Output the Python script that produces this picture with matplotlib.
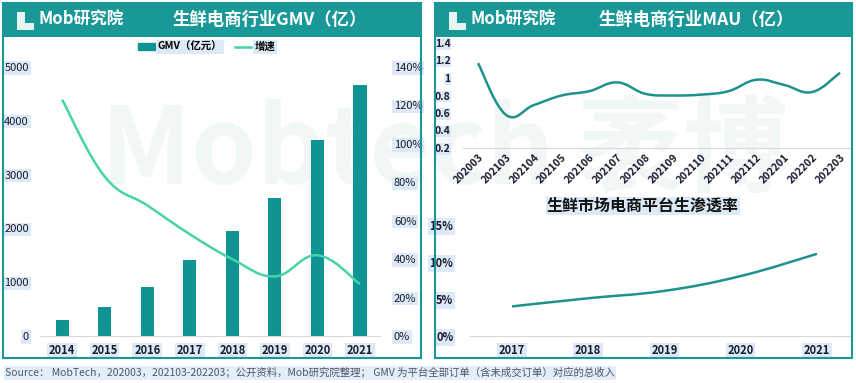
import matplotlib
matplotlib.use('Agg')
from matplotlib import pyplot as plt
from matplotlib.patches import Rectangle, PathPatch
from matplotlib.path import Path
from matplotlib.lines import Line2D
import numpy as np

plt.rcParams['font.family'] = ['Noto Sans CJK SC', 'DejaVu Sans']

# GMV chart data
years_gmv = ['2014', '2015', '2016', '2017', '2018', '2019', '2020', '2021']
gmv = [300, 540, 910, 1410, 1950, 2560, 3640, 4670]
growth = [123, 83, 68, 53, 40, 31, 42, 27]

# MAU chart data
months_mau = ['202003', '202103', '202104', '202105', '202106', '202107', '202108',
              '202109', '202110', '202111', '202112', '202201', '202202', '202203']
mau = [1.17, 0.58, 0.69, 0.80, 0.85, 0.95, 0.82, 0.80, 0.81, 0.85, 0.98, 0.92, 0.84, 1.06]

# penetration data
years_pen = ['2017', '2018', '2019', '2020', '2021']
penetration = [4.0, 5.1, 6.1, 8.1, 11.1]

W, H = 856, 383
TEAL = '#1a9898'
BAR = '#0f9393'
MINT = '#45d4a6'
LINE = '#1e918c'
LABEL_BOX = dict(facecolor='#dce9f6', edgecolor='none', pad=1.2)


def box(x0, y0, x1, y1):
    # pixel box (top-left origin) -> figure fraction [l, b, w, h]
    return [x0 / W, 1 - y1 / H, (x1 - x0) / W, (y1 - y0) / H]


def smooth_path(x, y, k=0.2):
    # cubic bezier through the data points (drawing style only)
    x = np.asarray(x, float)
    y = np.asarray(y, float)
    verts = [(x[0], y[0])]
    codes = [Path.MOVETO]
    n = len(x)
    for i in range(n - 1):
        x0, y0 = (x[i - 1], y[i - 1]) if i > 0 else (x[i], y[i])
        x3, y3 = (x[i + 2], y[i + 2]) if i + 2 < n else (x[i + 1], y[i + 1])
        c1 = (x[i] + (x[i + 1] - x0) * k, y[i] + (y[i + 1] - y0) * k)
        c2 = (x[i + 1] - (x3 - x[i]) * k, y[i + 1] - (y3 - y[i]) * k)
        verts += [c1, c2, (x[i + 1], y[i + 1])]
        codes += [Path.CURVE4] * 3
    return Path(verts, codes)


def style_ax(ax, size=8):
    ax.set_facecolor('none')
    for s in ['top', 'right', 'left']:
        ax.spines[s].set_visible(False)
    ax.spines['bottom'].set_color('#d9d9d9')
    ax.tick_params(length=0, labelsize=size, colors='#1a1a2e')
    for lbl in ax.get_xticklabels():
        lbl.set_fontweight('bold')


fig = plt.figure(figsize=(W / 100, H / 100), dpi=100)

# faint watermark, behind everything
fig.text(0.52, 0.60, 'Mobtech 袤博', fontsize=76, fontweight='bold', style='italic',
         color='#f0f7f6', ha='center', va='center', zorder=-5)

# panel frames and headers
for x0, x1, title, tx in [(3, 421, '生鲜电商行业GMV（亿）', 270), (435, 852, '生鲜电商行业MAU（亿）', 696)]:
    fig.add_artist(Rectangle((x0 / W, 1 - 358 / H), (x1 - x0) / W, 355 / H,
                             transform=fig.transFigure, fill=False, edgecolor=TEAL, lw=1.5))
    fig.add_artist(Rectangle((x0 / W, 1 - 37 / H), (x1 - x0) / W, 34 / H,
                             transform=fig.transFigure, facecolor=TEAL, edgecolor='none'))
    fig.text(tx / W, 1 - 20 / H, title, color='white', fontsize=12.5, fontweight='bold',
             ha='center', va='center')
    fig.text((x0 + 36) / W, 1 - 20 / H, 'Mob研究院', color='white', fontsize=12,
             fontweight='bold', style='italic', ha='left', va='center')
    fig.add_artist(Rectangle(((x0 + 14) / W, 1 - 30 / H), 8 / W, 18 / H,
                             transform=fig.transFigure, facecolor='#e6f4f4', edgecolor='none'))
    fig.add_artist(Rectangle(((x0 + 22) / W, 1 - 30 / H), 9 / W, 7 / H,
                             transform=fig.transFigure, facecolor='#e6f4f4', edgecolor='none'))

# GMV bars + growth line
ax1 = fig.add_axes(box(40, 67, 380, 336))
x = np.arange(len(years_gmv))
ax1.bar(x, gmv, width=0.31, color=BAR, zorder=2)
ax1.set_ylim(0, 5000)
ax1.set_xlim(-0.52, 7.47)
ax1.set_yticks([0, 1000, 2000, 3000, 4000, 5000])
ax1.set_xticks(x)
ax1.set_xticklabels(years_gmv)
style_ax(ax1)
ax1.tick_params(axis='y', pad=8)
ax1.tick_params(axis='x', pad=6)

ax2 = ax1.twinx()
ax2.set_facecolor('none')
ax2.add_patch(PathPatch(smooth_path(x, growth), fill=False, edgecolor=MINT, lw=1.8, zorder=3))
ax2.set_ylim(0, 140)
ax2.set_yticks(range(0, 141, 20))
ax2.set_yticklabels([f'{v}%' for v in range(0, 141, 20)])
for s in ['top', 'right', 'left', 'bottom']:
    ax2.spines[s].set_visible(False)
ax2.tick_params(length=0, labelsize=8, colors='#1a1a2e', pad=10)

for lbl in ax1.get_xticklabels() + ax1.get_yticklabels() + ax2.get_yticklabels():
    lbl.set_bbox(LABEL_BOX)

handles = [Rectangle((0, 0), 1, 1, color=BAR), Line2D([], [], color=MINT, lw=1.8)]
leg = ax1.legend(handles, ['GMV（亿元）', '增速'], loc='center', bbox_to_anchor=(0.49, 1.075),
                 ncol=2, frameon=False, fontsize=7.5, handlelength=1.6, handleheight=0.6,
                 columnspacing=1.2, handletextpad=0.3)
for t in leg.get_texts():
    t.set_bbox(LABEL_BOX)
    t.set_fontweight('bold')

# MAU line
ax3 = fig.add_axes(box(463, 43, 852, 148))
xm = np.arange(len(months_mau))
ax3.add_patch(PathPatch(smooth_path(xm, mau), fill=False, edgecolor=LINE, lw=1.8))
ax3.set_xlim(-0.54, 13.43)
ax3.set_ylim(0.2, 1.4)
ax3.set_yticks([0.2, 0.4, 0.6, 0.8, 1.0, 1.2, 1.4])
ax3.set_yticklabels(['0.2', '0.4', '0.6', '0.8', '1', '1.2', '1.4'])
ax3.set_xticks(xm)
ax3.set_xticklabels(months_mau, rotation=45, ha='right', rotation_mode='anchor')
style_ax(ax3, size=7.5)
ax3.tick_params(axis='y', pad=9)
ax3.tick_params(axis='x', pad=3)
for lbl in ax3.get_yticklabels():
    lbl.set_fontweight('bold')
    lbl.set_bbox(dict(facecolor='#dce9f6', edgecolor='none', pad=0.5))

# penetration line
ax4 = fig.add_axes(box(470, 225, 852, 336))
xp = np.arange(len(years_pen))
ax4.add_patch(PathPatch(smooth_path(xp, penetration), fill=False, edgecolor=LINE, lw=1.8))
ax4.set_xlim(-0.55, 4.46)
ax4.set_ylim(0, 15)
ax4.set_yticks([0, 5, 10, 15])
ax4.set_yticklabels(['0%', '5%', '10%', '15%'])
ax4.set_xticks(xp)
ax4.set_xticklabels(years_pen)
style_ax(ax4)
ax4.tick_params(axis='y', pad=12)
ax4.tick_params(axis='x', pad=6)
for lbl in ax4.get_yticklabels() + ax4.get_xticklabels():
    lbl.set_fontweight('bold')
    lbl.set_bbox(LABEL_BOX)
fig.text(643 / W, 1 - 206 / H, '生鲜市场电商平台生渗透率', fontsize=11.5, fontweight='bold',
         color='#111111', ha='center', va='center',
         bbox=dict(facecolor='#dce9f6', edgecolor='none', pad=1))

# footer
fig.text(5 / W, 1 - 373 / H,
         'Source： MobTech，202003，202103-202203；公开资料，Mob研究院整理； GMV 为平台全部订单（含未成交订单）对应的总收入',
         fontsize=7.5, color='#4a5868', ha='left', va='center',
         bbox=dict(facecolor='#e4eef8', edgecolor='none', pad=1))

fig.savefig('out.png', dpi=100)
